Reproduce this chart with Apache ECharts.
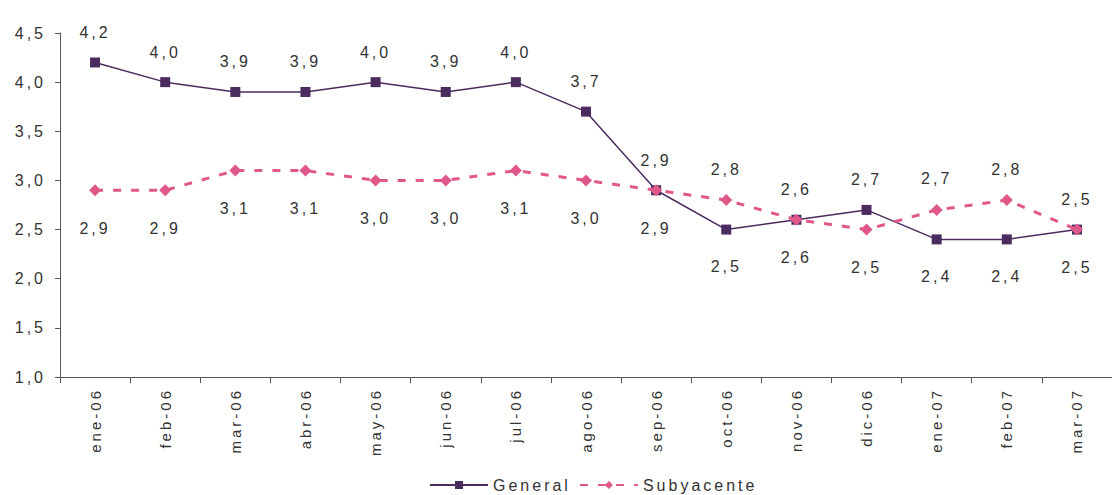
<!DOCTYPE html>
<html><head><meta charset="utf-8">
<script src="https://cdn.jsdelivr.net/npm/echarts@6/dist/echarts.min.js"></script>
<style>html,body{margin:0;padding:0;background:#fff}#c{width:1112px;height:495px}#c text{letter-spacing:3px}</style>
</head><body><div id="c"></div>
<script>
const categories = ['ene-06','feb-06','mar-06','abr-06','may-06','jun-06','jul-06','ago-06','sep-06','oct-06','nov-06','dic-06','ene-07','feb-07','mar-07'];
const general = [4.2,4.0,3.9,3.9,4.0,3.9,4.0,3.7,2.9,2.5,2.6,2.7,2.4,2.4,2.5];
const subyacente = [2.9,2.9,3.1,3.1,3.0,3.0,3.1,3.0,2.9,2.8,2.6,2.5,2.7,2.8,2.5];
const yTicks = {min:1.0, max:4.5, interval:0.5};

const fmt = v => v.toFixed(1).replace('.', ',');
const font = 'Liberation Sans, Arial, sans-serif';
const txt = '#333';
const TOP = {position:'top', distance:17};
const BOTTOM = {position:'bottom', distance:24};

const genData = general.map((v,i)=>({value:v,label: v >= subyacente[i] ? TOP : BOTTOM}));
const subData = subyacente.map((v,i)=>({value:v,label: v > general[i] ? TOP : BOTTOM}));

const chart = echarts.init(document.getElementById('c'), null, {renderer:'svg'});
chart.setOption({
  animation:false,
  grid:{left:60, top:33, width:1067, height:344},
  legend:{
    top:472, left:424, itemWidth:58, itemHeight:10, itemGap:29,
    textStyle:{fontFamily:font, fontSize:16, color:txt},
    data:['General','Subyacente']
  },
  xAxis:{
    type:'category', data:categories, boundaryGap:true,
    axisLine:{lineStyle:{color:'#555', width:1}},
    axisTick:{show:true, length:6, lineStyle:{color:'#555'}},
    axisLabel:{rotate:90, fontFamily:font, fontSize:15, color:txt, margin:11}
  },
  yAxis:{
    type:'value', min:yTicks.min, max:yTicks.max, interval:yTicks.interval,
    splitLine:{show:false},
    axisLine:{show:true, lineStyle:{color:'#555', width:1}},
    axisTick:{show:true, length:5, lineStyle:{color:'#555'}},
    axisLabel:{formatter:v=>fmt(v), fontFamily:font, fontSize:16, color:txt, margin:14}
  },
  series:[
    {
      name:'General', type:'line', data:genData,
      symbol:'rect', symbolSize:10,
      lineStyle:{color:'#4B2C5E', width:1.5},
      itemStyle:{color:'#4B2C5E'},
      label:{show:true, formatter:p=>fmt(p.value), fontFamily:font, fontSize:16, color:txt},
      z:3
    },
    {
      name:'Subyacente', type:'line', data:subData,
      symbol:'diamond', symbolSize:12,
      lineStyle:{color:'#E0588A', width:3, type:[8,10]},
      itemStyle:{color:'#E0588A'},
      label:{show:true, formatter:p=>fmt(p.value), fontFamily:font, fontSize:16, color:txt},
      z:4
    }
  ]
});
</script></body></html>
